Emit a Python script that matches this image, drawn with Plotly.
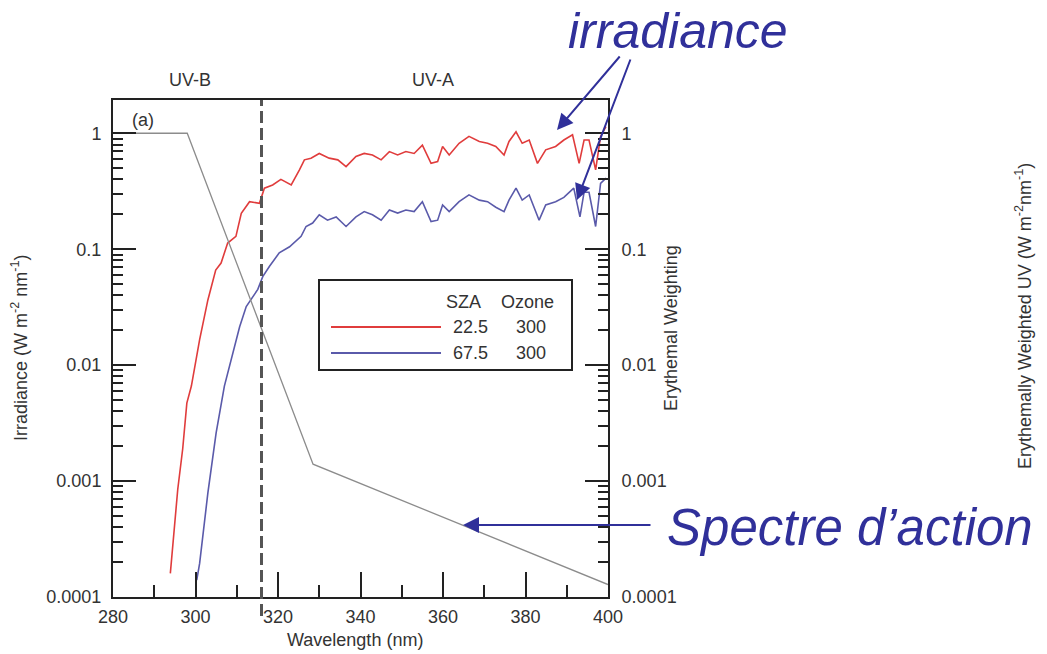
import plotly.graph_objects as go

# ---------------- data ----------------
wl_sza22 = [293.9, 295.7, 296.9, 297.9, 299.0, 301.0, 303.0, 304.9, 306.2, 307.8, 309.8,
            311.1, 313.1, 315.5, 316.7, 318.7, 320.7, 323.2, 325.2, 326.4, 328.0, 330.0,
            332.4, 334.5, 336.5, 338.9, 340.9, 342.9, 345.0, 347.0, 349.0, 351.0, 353.0,
            355.0, 357.1, 358.7, 359.9, 361.5, 363.9, 366.3, 368.8, 370.8, 372.8, 374.8,
            376.0, 377.7, 379.2, 380.9, 382.9, 384.9, 387.3, 389.3, 391.4, 393.0, 394.2,
            395.4, 397.0, 398.2, 399.5]
irr_sza22 = [1.6e-4, 8.5e-4, 1.9e-3, 4.7e-3, 6.6e-3, 0.0166, 0.0365, 0.066, 0.076, 0.113, 0.129,
             0.204, 0.257, 0.249, 0.336, 0.358, 0.40, 0.358, 0.483, 0.59, 0.61, 0.67,
             0.61, 0.59, 0.515, 0.63, 0.67, 0.65, 0.59, 0.695, 0.65, 0.695, 0.67,
             0.79, 0.55, 0.57, 0.77, 0.65, 0.82, 0.94, 0.85, 0.82, 0.77, 0.65,
             0.85, 1.03, 0.82, 0.875, 0.55, 0.72, 0.77, 0.875, 0.97, 0.55, 0.875,
             0.875, 0.483, 0.94, 1.14]

wl_sza67 = [300.3, 301.0, 303.0, 305.0, 307.0, 308.6, 310.7, 312.3, 315.1, 316.3, 317.9,
            320.3, 322.8, 325.6, 326.8, 328.4, 330.0, 332.0, 334.1, 336.5, 338.9, 340.9,
            342.9, 345.0, 347.0, 349.0, 351.0, 353.0, 355.0, 357.1, 358.7, 359.9, 361.5,
            363.9, 366.3, 368.8, 370.8, 372.8, 374.8, 376.0, 377.7, 379.2, 380.9, 383.3,
            384.9, 387.3, 389.3, 391.7, 393.2, 394.2, 395.4, 397.0, 398.2, 399.5]
irr_sza67 = [1.4e-4, 1.95e-4, 7.9e-4, 2.6e-3, 6.6e-3, 0.0112, 0.0214, 0.032, 0.045, 0.058, 0.071,
             0.093, 0.105, 0.129, 0.157, 0.168, 0.198, 0.178, 0.19, 0.157, 0.19, 0.211,
             0.198, 0.178, 0.218, 0.205, 0.218, 0.211, 0.257, 0.173, 0.178, 0.241, 0.211,
             0.257, 0.294, 0.265, 0.257, 0.23, 0.211, 0.265, 0.336, 0.265, 0.294, 0.178,
             0.241, 0.257, 0.28, 0.336, 0.19, 0.31, 0.31, 0.157, 0.37, 0.41]

wl_action = [280, 298, 328.5, 400]
erythemal_weight = [1.0, 1.0, 1.4e-3, 1.28e-4]

uvb_uva_boundary = 316

x_tick_vals = [280, 300, 320, 340, 360, 380, 400]
y_tick_vals = [1e-4, 1e-3, 1e-2, 1e-1, 1]
y_tick_text = ["0.0001", "0.001", "0.01", "0.1", "1"]
y_minor_vals = [k * 10.0 ** e for e in range(-4, 1) for k in range(2, 10)]

legend_sza = ["22.5", "67.5"]
legend_ozone = ["300", "300"]

# ---------------- styling ----------------
W, H = 1047, 654
ML, MR, MT, MB = 113, 439, 100, 57
PW, PH = W - ML - MR, H - MT - MB
FONT = "Liberation Sans, Arial, sans-serif"
TXT = "#333333"
AXC = "#222222"
NAVY = "#30309a"
RED = "#e03c3c"
BLUE = "#5a5aaa"
GRAY = "#8c8c8c"


def px(x):
    return (x - ML) / PW


def py(y):
    return (H - MB - y) / PH


fig = go.Figure()
fig.add_trace(go.Scatter(x=wl_action, y=erythemal_weight, mode="lines", yaxis="y2",
                         line=dict(color=GRAY, width=1.3), showlegend=False))
fig.add_trace(go.Scatter(x=wl_sza22, y=irr_sza22, mode="lines",
                         line=dict(color=RED, width=1.6), showlegend=False))
fig.add_trace(go.Scatter(x=wl_sza67, y=irr_sza67, mode="lines",
                         line=dict(color=BLUE, width=1.6), showlegend=False))

ylog_range = [-4, 0.287]
yaxis_common = dict(
    type="log", range=ylog_range, tickmode="array", tickvals=y_tick_vals, ticktext=y_tick_text,
    ticks="inside", ticklen=23, tickwidth=2, tickcolor=AXC,
    minor=dict(tickmode="array", tickvals=y_minor_vals, ticks="inside", ticklen=10,
               tickwidth=1.5, tickcolor=AXC, showgrid=False),
    showline=True, linewidth=2, linecolor=AXC, showgrid=False, zeroline=False,
    tickfont=dict(family=FONT, size=18, color=TXT),
)

fig.update_layout(
    width=W, height=H,
    margin=dict(l=ML, r=MR, t=MT, b=MB, pad=0),
    paper_bgcolor="white", plot_bgcolor="white",
    showlegend=False,
    xaxis=dict(range=[280, 400], tickmode="array", tickvals=x_tick_vals,
               ticks="inside", ticklen=25, tickwidth=2, tickcolor=AXC,
               minor=dict(dtick=10, ticks="inside", ticklen=12, tickwidth=2,
                          tickcolor=AXC, showgrid=False),
               showline=True, linewidth=2, linecolor=AXC, mirror=True,
               showgrid=False, zeroline=False, ticklabelstandoff=2,
               tickfont=dict(family=FONT, size=18, color=TXT)),
    yaxis=dict(**yaxis_common, side="left", ticklabelstandoff=6),
    yaxis2=dict(**yaxis_common, side="right", overlaying="y", anchor="x",
                ticklabelstandoff=8),
)

shapes = []
# UV-B / UV-A boundary
xb = (uvb_uva_boundary - 280) / (400 - 280)
shapes.append(dict(type="line", xref="paper", yref="paper", x0=xb, x1=xb,
                   y0=py(616), y1=1.0, line=dict(color="#555555", width=3, dash="12px,5px")))
# legend box
shapes.append(dict(type="rect", xref="paper", yref="paper", x0=px(319), x1=px(572),
                   y0=py(370), y1=py(280), line=dict(color=AXC, width=2), fillcolor="white"))
shapes.append(dict(type="line", xref="paper", yref="paper", x0=px(331), x1=px(441),
                   y0=py(327), y1=py(327), line=dict(color=RED, width=1.8)))
shapes.append(dict(type="line", xref="paper", yref="paper", x0=px(331), x1=px(441),
                   y0=py(353), y1=py(353), line=dict(color=BLUE, width=1.8)))
fig.update_layout(shapes=shapes)

ann = []


def text(x, y, s, size=18, color=TXT, angle=0, italic=False, xanchor="center"):
    ann.append(dict(x=px(x), y=py(y), xref="paper", yref="paper", text=s, showarrow=False,
                    textangle=angle, xanchor=xanchor, yanchor="middle",
                    font=dict(family=FONT, size=size, color=color,
                              style="italic" if italic else "normal")))


text(190, 80, "UV-B")
text(433, 80, "UV-A")
text(143, 120, "(a)")
text(355, 640, "Wavelength (nm)")
text(19, 348, "Irradiance (W m<sup>-2</sup> nm<sup>-1</sup>)", angle=-90)
text(671, 328, "Erythemal Weighting", angle=-90)
text(1023, 316, "Erythemally Weighted UV (W m<sup>-2</sup>nm<sup>-1</sup>)", angle=-90)
# legend text
text(463, 302, "SZA")
text(527, 302, "Ozone")
for i, (s, o) in enumerate(zip(legend_sza, legend_ozone)):
    yy = 327 + 26 * i
    text(470, yy, s)
    text(531, yy, o)
# callouts
text(678, 31, "irradiance", size=50, color=NAVY, italic=True)
text(850, 527, "Spectre d\u2019action", size=51, color=NAVY, italic=True)


def arrow(tip, tail):
    ann.append(dict(x=px(tip[0]), y=py(tip[1]), xref="paper", yref="paper", text="",
                    showarrow=True, ax=tail[0] - tip[0], ay=tail[1] - tip[1],
                    arrowhead=2, arrowsize=1.6, arrowwidth=2, arrowcolor=NAVY))


arrow((557, 130), (621, 55))
arrow((577, 200), (631, 58))
arrow((463, 525), (652, 525))

fig.update_layout(annotations=ann)
fig.write_html("out.html")
